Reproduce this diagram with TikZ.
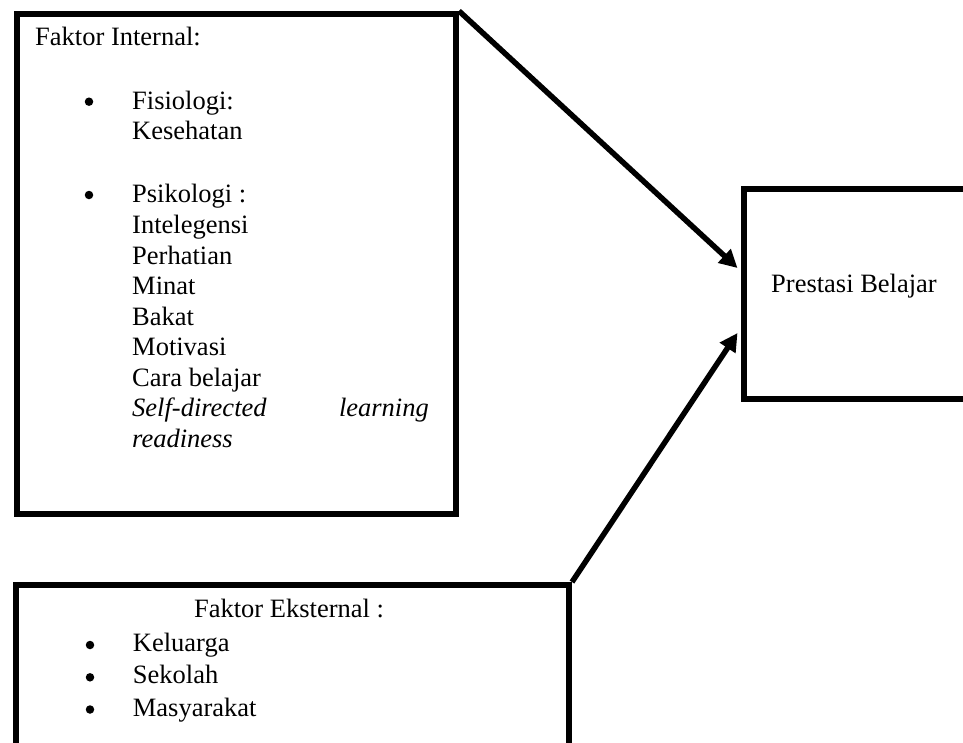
\documentclass[tikz,border=0pt]{standalone}
\usepackage{fontspec}
\setmainfont{Liberation Serif}
\usetikzlibrary{arrows.meta}
\begin{document}
\begin{tikzpicture}[x=1pt,y=-1pt,
  boxnode/.style={draw=black,line width=6pt,inner sep=0pt,anchor=north west},
  txt/.style={anchor=base west,inner sep=0pt,font=\fontsize{26.5}{30.5}\selectfont},
  bul/.style={circle,fill=black,inner sep=0pt,minimum size=8.5pt},
  conn/.style={line width=5.5pt,-{Triangle[length=18pt,width=18pt]}}]
\useasboundingbox (0,0) rectangle (963,742);
\clip (0,0) rectangle (963,742);
% boxes
\node[boxnode,minimum width=439.5pt,minimum height=500pt] (int) at (13.5,11) {};
\node[boxnode,minimum width=300pt,minimum height=210pt] (pb) at (740.5,186) {};
\node[boxnode,minimum width=553.5pt,minimum height=161pt] (ext) at (12.5,582) {};
% internal text
\node[txt] (t0) at (35,45) {Faktor Internal:};
\node[bul] (b1) at (89,101.7) {};
\node[txt] (t1) at (132,109.3) {Fisiologi:};
\node[txt] (t2) at (132,139.5) {Kesehatan};
\node[bul] (b2) at (89,195) {};
\node[txt] (t3) at (132,202.7) {Psikologi :};
\node[txt] (t4) at (132,233.5) {Intelegensi};
\node[txt] (t5) at (132,264) {Perhatian};
\node[txt] (t6) at (132,294.5) {Minat};
\node[txt] (t7) at (132,325) {Bakat};
\node[txt] (t8) at (132,355.5) {Motivasi};
\node[txt] (t9) at (132,386) {Cara belajar};
\node[txt] (t10) at (132,416.5) {\itshape Self-directed};
\node[txt,anchor=base east] (t11) at (429,416.5) {\itshape learning};
\node[txt] (t12) at (132,447) {\itshape readiness};
% prestasi
\node[txt] (p1) at (771,292.7) {Prestasi Belajar};
% external text
\node[txt,anchor=base] (e0) at (289,617.3) {Faktor Eksternal :};
\node[bul] (b3) at (90,645) {};
\node[txt] (e1) at (132.7,651) {Keluarga};
\node[bul] (b4) at (90,677.3) {};
\node[txt] (e2) at (132.7,683.3) {Sekolah};
\node[bul] (b5) at (90,709.5) {};
\node[txt] (e3) at (132.7,716) {Masyarakat};
% connectors
\coordinate (tipA) at ([yshift=26pt]pb.west);
\coordinate (tipB) at ([yshift=-39pt]pb.west);
\draw[conn] (int.north east) -- ([xshift=-3pt]pb.north west |- tipA);
\draw[conn] (ext.north east) -- ([xshift=-3pt]pb.north west |- tipB);
\end{tikzpicture}
\end{document}
